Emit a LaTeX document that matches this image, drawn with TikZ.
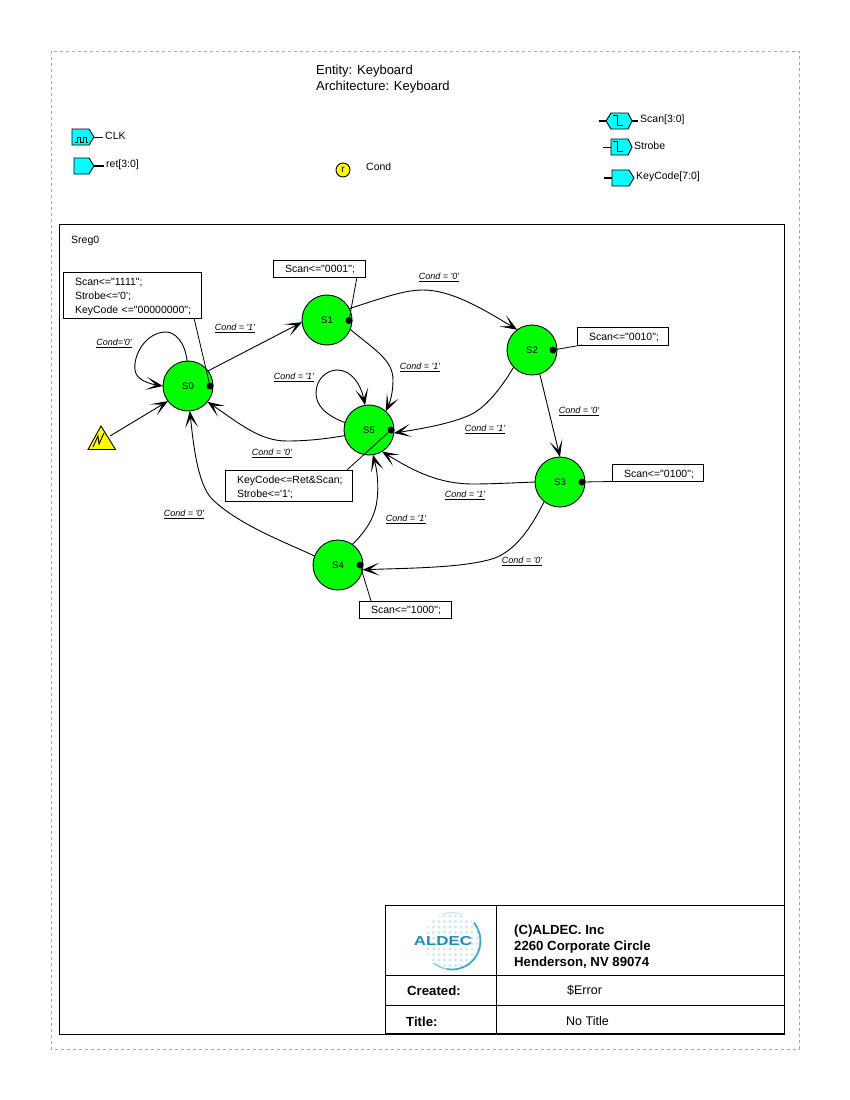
\documentclass[tikz,border=0pt]{standalone}
\usepackage{fontspec}
\usetikzlibrary{arrows.meta}
\newfontfamily\dgmfont{Liberation Sans}
\newcommand{\condlabel}[1]{\underline{\textit{#1}}}
\newcommand{\topgap}{\rule{0pt}{11pt}}
\definecolor{statefill}{RGB}{0,255,0}
\definecolor{portfill}{RGB}{0,255,255}
\definecolor{warnfill}{RGB}{255,255,0}
\definecolor{logoblue}{RGB}{28,140,185}
\definecolor{logoarc}{RGB}{60,170,205}
\definecolor{logodot}{RGB}{205,230,240}
\tikzset{
    fsm/.style={circle, draw, fill=statefill, line width=0.9pt, minimum size=50pt, inner sep=0pt, outer sep=0pt, font=\dgmfont\fontsize{9.5}{12}\selectfont},
    box/.style={rectangle, draw, fill=white, line width=0.9pt, outer sep=0pt, inner xsep=0pt, inner ysep=0pt, align=left, font=\dgmfont\fontsize{10.5}{14}\selectfont},
    onebox/.style={box, text height=8.5pt, text depth=0.5pt},
    arrow/.style={-{Stealth[length=17pt, width=13pt, inset=10pt]}, line width=0.9pt},
    lead/.style={line width=0.8pt},
    dot/.style={circle, fill=black, minimum size=7pt, inner sep=0pt},
    cond/.style={inner sep=0pt, font=\dgmfont\fontsize{9}{11}\selectfont},
    txt/.style={anchor=west, inner sep=0pt, font=\dgmfont\fontsize{10.5}{12}\selectfont},
    title/.style={anchor=west, inner sep=0pt, align=left, font=\dgmfont\fontsize{13}{16}\selectfont},
    block/.style={anchor=west, inner sep=0pt, align=left, font=\dgmfont\bfseries\fontsize{13.2}{16}\selectfont},
    value/.style={anchor=west, inner sep=0pt, font=\dgmfont\fontsize{12.5}{14}\selectfont},
    port/.style={draw=black, fill=portfill, line width=0.9pt}
}
\begin{document}
\begin{tikzpicture}[x=1pt, y=-1pt]
    \useasboundingbox (0,0) rectangle (850,1100);

    % Sheet frames
    \draw[gray!70, dashed, line width=0.8pt] (51,51) rectangle (799,1049);
    \draw[line width=0.9pt] (59,224) rectangle (784,1034);

    % Header
    \node[title] (head) at (316,79) {Entity: Keyboard\\Architecture: Keyboard};
    \node[txt] (sreg) at (71,241) {Sreg0};

    % Input ports
    \draw[line width=0.9pt] (94,137) -- (103,137);
    \draw[port] (72,129) -- (89,129) -- (94,137) -- (89,145) -- (72,145) -- cycle;
    \draw[line width=0.8pt] (75,142) -- (77,142) -- (77,137) -- (80,137) -- (80,142) -- (83,142) -- (83,137) -- (86,137) -- (86,142) -- (88,142);
    \node[txt] (clk) at (105,135.5) {CLK};
    \draw[line width=2.6pt] (94,166) -- (104,166);
    \draw[port] (74,158) -- (89,158) -- (94,166) -- (89,174) -- (74,174) -- cycle;
    \node[txt] (ret) at (106,165) {ret[3:0]};

    % Condition signal
    \node[circle, draw, fill=warnfill, minimum size=14pt, inner sep=0pt, line width=0.9pt, font=\dgmfont\fontsize{10}{12}\selectfont] (sig) at (343,170) {r};
    \node[txt] (condsig) at (366,167) {Cond};

    % Output ports
    \draw[line width=2.6pt] (599,121) -- (638,121);
    \draw[port] (606,121) -- (611,113) -- (628,113) -- (632,121) -- (628,129) -- (611,129) -- cycle;
    \draw[line width=1pt] (613,115) -- (617,115) -- (617,125) -- (623,125);
    \node[txt] (scan) at (640,119.5) {Scan[3:0]};
    \draw[line width=0.9pt] (603,147) -- (611,147);
    \draw[port] (611,139) -- (628,139) -- (632,147) -- (628,155) -- (611,155) -- cycle;
    \draw[line width=1pt] (613,141) -- (617,141) -- (617,151) -- (623,151);
    \node[txt] (strobe) at (634,145.5) {Strobe};
    \draw[line width=2.6pt] (604,178) -- (612,178);
    \draw[port] (612,170) -- (629,170) -- (634,178) -- (629,186) -- (612,186) -- cycle;
    \node[txt] (keycode) at (636,176.5) {KeyCode[7:0]};

    % States
    \node[fsm] (S0) at (188,386) {S0};
    \node[fsm] (S1) at (327,320) {S1};
    \node[fsm] (S2) at (532,350) {S2};
    \node[fsm] (S3) at (560,482) {S3};
    \node[fsm] (S4) at (338,565) {S4};
    \node[fsm] (S5) at (369,430) {S5};

    % State dots
    \node[dot] (d0) at (210,386) {};
    \node[dot] (d1) at (349,320.5) {};
    \node[dot] (d2) at (553,350) {};
    \node[dot] (d3) at (582,482) {};
    \node[dot] (d4) at (360,565) {};
    \node[dot] (d5) at (391,430) {};

    % Actions
    \node[box, minimum width=138pt, minimum height=46pt, text width=114pt] (act0) at (132,295) {\topgap Scan<="1111";\\Strobe<='0';\\\mbox{KeyCode <="00000000";}};
    \node[onebox, minimum width=92pt, minimum height=17pt, text width=68pt] (act1) at (319,268.5) {Scan<="0001";};
    \node[onebox, minimum width=91pt, minimum height=18pt, text width=67pt] (act2) at (622.5,336) {Scan<="0010";};
    \node[onebox, minimum width=91pt, minimum height=17pt, text width=67pt] (act3) at (657.5,473) {Scan<="0100";};
    \node[onebox, minimum width=92pt, minimum height=17pt, text width=68pt] (act4) at (405,609.5) {Scan<="1000";};
    \node[box, minimum width=127pt, minimum height=31pt, text width=103pt] (act5) at (288.5,485.5) {\topgap KeyCode<=Ret\&Scan;\\Strobe<='1';};

    % Action leaders
    \draw[lead] (act0.south east) ++(-7,0) -- (d0);
    \draw[lead] (act1.south east) ++(-8,0) -- (d1);
    \draw[lead] (act2.south west) ++(5,0) -- (d2);
    \draw[lead] (act3.south west) -- (d3);
    \draw[lead] (act4.north west) ++(12,0) -- (d4);
    \draw[lead] (act5.north east) ++(-5,0) -- (d5);

    % Reset
    \draw[fill=warnfill, line width=0.9pt] (88,449.5) -- (101,426) -- (115.5,449.5) -- cycle;
    \draw[line width=0.9pt] (93,447) -- (98,436) -- (99,444) -- (104,433);
    \coordinate (rst) at (110,436);
    \draw[arrow] (rst) -- (S0.217);

    % Transitions
    \draw[arrow] (S0.37) -- (S1.185);
    \draw[arrow] (S0.92) .. controls (185,342) and (175,332) .. (166,332) .. controls (146,332) and (133,355) .. (135,370) .. controls (136,380) and (150,384) .. (S0.180);
    \draw[arrow] (S1.27) .. controls (385,297) and (405,290) .. (423,290) .. controls (450,290) and (480,307) .. (S2.126);
    \draw[arrow] (S1.338) .. controls (375,350) and (393,360) .. (393,380) .. controls (393,390) and (391,400) .. (S5.48);
    \draw[arrow] (S2.288) -- (S3.90);
    \draw[arrow] (S2.223) .. controls (500,390) and (485,408) .. (470,415) .. controls (450,424) and (420,429) .. (S5.353);
    \draw[arrow] (S3.180) .. controls (510,483) and (490,484) .. (473,484) .. controls (440,484) and (415,472) .. (S5.301);
    \draw[arrow] (S3.231) .. controls (530,530) and (515,550) .. (495,558) .. controls (465,568) and (410,568) .. (S4.349);
    \draw[arrow] (S4.55) .. controls (365,532) and (375,518) .. (377,500) .. controls (379,485) and (377,470) .. (S5.279);
    \draw[arrow] (S4.159) .. controls (280,540) and (240,525) .. (213,500) .. controls (197,485) and (193,440) .. (S0.274);
    \draw[arrow] (S5.193) .. controls (320,440) and (300,441) .. (287,441) .. controls (260,441) and (240,424) .. (S0.321);
    \draw[arrow] (S5.163) .. controls (325,415) and (316,405) .. (316,393) .. controls (316,378) and (328,370) .. (337,370) .. controls (352,370) and (361,385) .. (S5.99);

    % Transition labels
    \node[cond] (c00) at (114,343) {\condlabel{Cond='0'}};
    \node[cond] (c01) at (235,328) {\condlabel{Cond = '1'}};
    \node[cond] (c12) at (439,277) {\condlabel{Cond = '0'}};
    \node[cond] (c15) at (420,367) {\condlabel{Cond = '1'}};
    \node[cond] (c23) at (579,411) {\condlabel{Cond = '0'}};
    \node[cond] (c25) at (485,429) {\condlabel{Cond = '1'}};
    \node[cond] (c35) at (465,495) {\condlabel{Cond = '1'}};
    \node[cond] (c34) at (522,561) {\condlabel{Cond = '0'}};
    \node[cond] (c45) at (406,519) {\condlabel{Cond = '1'}};
    \node[cond] (c40) at (184,514) {\condlabel{Cond = '0'}};
    \node[cond] (c50) at (272,453) {\condlabel{Cond = '0'}};
    \node[cond] (c55) at (294,377) {\condlabel{Cond = '1'}};

    % Title block
    \draw[line width=0.9pt] (385,905) rectangle (784,1034);
    \draw[line width=0.9pt] (385,975) -- (784,975);
    \draw[line width=0.9pt] (385,1005) -- (784,1005);
    \draw[line width=0.9pt] (496,905) -- (496,1034);
    \draw[line width=1.8pt] (385,1034) -- (784,1034);
    \node[block] (addr) at (514,947) {(C)ALDEC. Inc\\2260 Corporate Circle\\Henderson, NV 89074};
    \node[block] (created) at (407,990.5) {Created:};
    \node[block] (ttl) at (406,1021.5) {Title:};
    \node[value] (error) at (567,990.5) {\$Error};
    \node[value] (notitle) at (566,1021.5) {No Title};

    % Logo
    \begin{scope}
        \clip (452,941) circle (28);
        \foreach \i in {0,...,9}
            \foreach \j in {0,...,9}
                \fill[logodot] ({428+5.5*\j},{916+5.5*\i}) circle (1.6);
    \end{scope}
    \draw[logodot, line width=1.2pt] (452,941) ++(-70:28.5) arc[start angle=-70, end angle=-110, radius=28.5];
    \draw[logoarc!60, line width=1.4pt] (452,941) ++(100:28.5) arc[start angle=100, end angle=130, radius=28.5];
    \draw[logoarc, line width=1.8pt] (452,941) ++(-40:28.5) arc[start angle=-40, end angle=100, radius=28.5];
    \node[inner sep=0pt, xscale=1.3, text=logoblue, font=\dgmfont\bfseries\fontsize{13}{14}\selectfont] (aldec) at (443,941) {ALDEC};
\end{tikzpicture}
\end{document}
